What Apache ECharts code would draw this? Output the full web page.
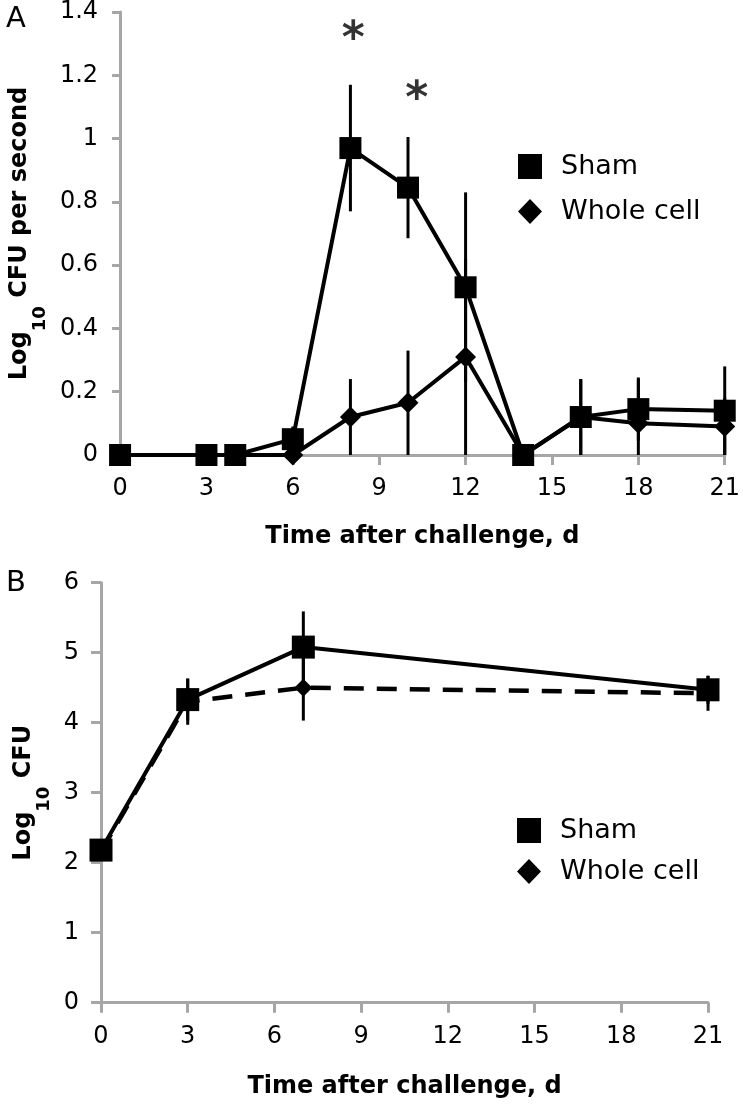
<!DOCTYPE html>
<html>
<head>
<meta charset="utf-8">
<script src="https://cdn.jsdelivr.net/npm/echarts@6/dist/echarts.min.js"></script>
<style>
html,body{margin:0;padding:0;background:#fff;}
#chart{width:743px;height:1104px;}
</style>
</head>
<body>
<div id="chart"></div>
<script>
// ---------- Data ----------
// Panel A: Log10 CFU per second
var daysA      = [0, 3, 4, 6, 8, 10, 12, 14, 16, 18, 21];
var shamA      = [0, 0, 0, 0.05, 0.97, 0.845, 0.53, 0, 0.12, 0.145, 0.14];
var shamErrA   = [0, 0, 0, 0.04, 0.2, 0.16, 0.3, 0, 0.12, 0.1, 0.14];
var wholeA     = [0, 0, 0, 0, 0.12, 0.165, 0.31, 0, 0.12, 0.1, 0.09];
var wholeErrA  = [0, 0, 0, 0, 0.12, 0.165, 0.31, 0, 0.12, 0.14, 0.09];
var starDaysA  = [8.1, 10.3];
var starValsA  = [1.31, 1.12];

// Panel B: Log10 CFU
var daysB      = [0, 3, 7, 21];
var shamB      = [2.18, 4.33, 5.08, 4.47];
var shamErrB   = [0, 0.3, 0.51, 0.2];
var wholeB     = [2.16, 4.3, 4.5, 4.42];
var wholeErrB  = [0, 0.33, 0.47, 0.25];

var seriesNames = ['Sham', 'Whole cell'];
var xTitle = 'Time after challenge, d';

// ---------- Helpers ----------
function pairs(xs, ys) { return xs.map(function (x, i) { return [x, ys[i]]; }); }
function triples(xs, ys, es) { return xs.map(function (x, i) { return [x, ys[i], es[i]]; }); }

var FONT = 'DejaVu Sans';
var AXIS_COLOR = '#a6a6a6';

function errRender(params, api) {
  var x = api.value(0), y = api.value(1), e = api.value(2);
  if (!e) return null;
  var p1 = api.coord([x, y - e]);
  var p2 = api.coord([x, y + e]);
  var cs = params.coordSys;
  var pts = echarts.graphic.clipPointsByRect([p1, p2], {x: cs.x, y: cs.y, width: cs.width, height: cs.height});
  if (!pts) return null;
  return {
    type: 'line',
    shape: {x1: pts[0][0], y1: pts[0][1], x2: pts[1][0], y2: pts[1][1]},
    style: {stroke: '#000', lineWidth: 3}
  };
}

function errSeries(idx, xs, ys, es, z) {
  return {
    type: 'custom', xAxisIndex: idx, yAxisIndex: idx, z: z,
    renderItem: errRender, data: triples(xs, ys, es), silent: true
  };
}

function xAxisCfg(idx, nameGap) {
  return {
    type: 'value', gridIndex: idx, min: 0, max: 21, interval: 3,
    name: xTitle, nameLocation: 'middle', nameGap: nameGap,
    nameTextStyle: {fontFamily: FONT, fontSize: 24, fontWeight: 'bold', color: '#000'},
    axisLine: {show: true, lineStyle: {color: AXIS_COLOR, width: 3}},
    axisTick: {show: true, length: 10, lineStyle: {color: AXIS_COLOR, width: 3}},
    axisLabel: {fontFamily: FONT, fontSize: 24, color: '#000', margin: 22},
    splitLine: {show: false}
  };
}

function yAxisCfg(idx, min, max, interval, nameRich, nameGap, tickLen) {
  return {
    type: 'value', gridIndex: idx, min: min, max: max, interval: interval,
    name: nameRich, nameLocation: 'middle', nameGap: nameGap, nameRotate: 90,
    nameTextStyle: {
      fontFamily: FONT, color: '#000',
      rich: {
        b: {fontFamily: FONT, fontSize: 24, fontWeight: 'bold', color: '#000', lineHeight: 24, verticalAlign: 'top'},
        sub: {fontFamily: FONT, fontSize: 18, fontWeight: 'bold', color: '#000', lineHeight: 18, verticalAlign: 'top', padding: [23, 0, 0, 0]}
      }
    },
    axisLine: {show: true, onZero: false, lineStyle: {color: AXIS_COLOR, width: 3}},
    axisTick: {show: true, length: tickLen, lineStyle: {color: AXIS_COLOR, width: 3}},
    axisLabel: {fontFamily: FONT, fontSize: 24, color: '#000', margin: 22},
    splitLine: {show: false}
  };
}

function legendCfg(left, top, gap) {
  return {
    orient: 'vertical', left: left, top: top, itemGap: gap,
    itemWidth: 24, itemHeight: 25,
    data: [{name: seriesNames[0], icon: 'rect'}, {name: seriesNames[1], icon: 'diamond'}],
    itemStyle: {color: '#000', borderWidth: 0},
    textStyle: {fontFamily: FONT, fontSize: 27, color: '#000', lineHeight: 27, padding: [0, 0, 0, 14]},
    selectedMode: false
  };
}

var chart = echarts.init(document.getElementById('chart'), null, {renderer: 'canvas'});

var option = {
  animation: false,
  backgroundColor: '#fff',
  title: [
    {text: 'A', left: 1, top: 0, textStyle: {fontFamily: FONT, fontSize: 29, fontWeight: 'normal', color: '#000'}},
    {text: 'B', left: 1, top: 564, textStyle: {fontFamily: FONT, fontSize: 29, fontWeight: 'normal', color: '#000'}}
  ],
  legend: [legendCfg(513, 148, 18), legendCfg(512, 812, 14)],
  grid: [
    {left: 117, top: 10.7, width: 610, height: 444.3, containLabel: false},
    {left: 101, top: 582.7, width: 607, height: 420, containLabel: false}
  ],
  xAxis: [xAxisCfg(0, 70), xAxisCfg(1, 72)],
  yAxis: [
    yAxisCfg(0, 0, 1.4, 0.2, '{b|Log}{sub|10}{b| CFU per second}', 73, 8),
    yAxisCfg(1, 0, 6, 1, '{b|Log}{sub|10}{b| CFU}', 40, 10)
  ],
  series: [
    errSeries(0, daysA, wholeA, wholeErrA, 2),
    errSeries(0, daysA, shamA, shamErrA, 2),
    {
      name: seriesNames[1], type: 'line', xAxisIndex: 0, yAxisIndex: 0, z: 3,
      data: pairs(daysA, wholeA), symbol: 'diamond', symbolSize: 21,
      itemStyle: {color: '#000'}, lineStyle: {color: '#000', width: 4}
    },
    {
      name: seriesNames[0], type: 'line', xAxisIndex: 0, yAxisIndex: 0, z: 4,
      data: pairs(daysA, shamA), symbol: 'rect', symbolSize: 22,
      itemStyle: {color: '#000'}, lineStyle: {color: '#000', width: 4}
    },
    {
      type: 'scatter', xAxisIndex: 0, yAxisIndex: 0, z: 5, silent: true,
      data: pairs(starDaysA, starValsA), symbolSize: 0,
      label: {show: true, position: 'inside', formatter: '*', fontFamily: FONT, fontSize: 44, fontWeight: 'bold', color: '#000'}
    },
    errSeries(1, daysB, wholeB, wholeErrB, 2),
    errSeries(1, daysB, shamB, shamErrB, 2),
    {
      name: seriesNames[1], type: 'line', xAxisIndex: 1, yAxisIndex: 1, z: 3,
      data: pairs(daysB, wholeB), symbol: 'diamond', symbolSize: 18,
      itemStyle: {color: '#000'}, lineStyle: {color: '#000', width: 4.5, type: [20, 13]}
    },
    {
      name: seriesNames[0], type: 'line', xAxisIndex: 1, yAxisIndex: 1, z: 4,
      data: pairs(daysB, shamB), symbol: 'rect', symbolSize: 23,
      itemStyle: {color: '#000'}, lineStyle: {color: '#000', width: 4}
    }
  ]
};
chart.setOption(option);
</script>
</body>
</html>
